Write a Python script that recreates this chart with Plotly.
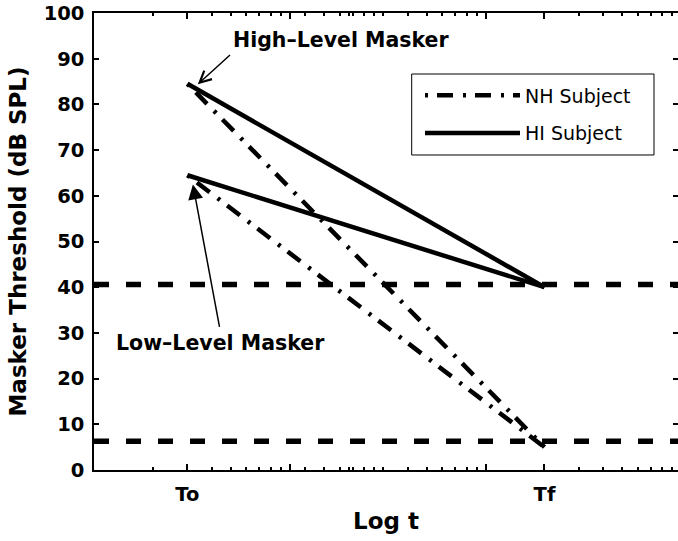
import numpy as np
import plotly.graph_objects as go

# Time axis (log scale) and key time points
T_O = 3.0          # onset time "To"
T_F = 200.0        # final time "Tf"
t_span = [1.0, 1000.0]

# Masker thresholds (dB SPL) at To and Tf
hi_high = [84.5, 40.0]   # HI subject, high-level masker
hi_low = [64.5, 40.0]    # HI subject, low-level masker
nh_high = [84.5, 5.0]    # NH subject, high-level masker
nh_low = [64.5, 5.0]     # NH subject, low-level masker

# Quiet thresholds (horizontal reference levels)
hi_quiet = 40.6
nh_quiet = 6.3

# Axis ticks
y_ticks = list(range(0, 101, 10))
x_major = [T_O, 10, 100, T_F]
x_major_text = ["To", "", "", "Tf"]
decade_minor = [k * 10 ** n for n in range(3) for k in range(2, 10)]
to_multiples = [T_O * k for k in range(4, 10)]
x_minor = sorted(set(v for v in decade_minor + to_multiples if v not in (T_O, T_F)))

FONT = "DejaVu Sans"
DASHDOT = "3px,9px,16px,10px"

fig = go.Figure()

# Quiet-threshold reference levels
for lvl in (hi_quiet, nh_quiet):
    fig.add_trace(go.Scatter(
        x=t_span, y=[lvl, lvl], mode="lines",
        line=dict(color="black", width=5.5, dash="15px,17px"),
        showlegend=False, hoverinfo="skip"))

# NH subject (dash-dot)
fig.add_trace(go.Scatter(
    x=[T_O, T_F], y=nh_high, mode="lines", name="NH Subject",
    line=dict(color="black", width=4.5, dash=DASHDOT), legendgroup="nh"))
fig.add_trace(go.Scatter(
    x=[T_O, T_F], y=nh_low, mode="lines", name="NH Subject",
    line=dict(color="black", width=4.5, dash=DASHDOT), legendgroup="nh",
    showlegend=False))

# HI subject (solid)
fig.add_trace(go.Scatter(
    x=[T_O, T_F], y=hi_high, mode="lines", name="HI Subject",
    line=dict(color="black", width=4.5), legendgroup="hi"))
fig.add_trace(go.Scatter(
    x=[T_O, T_F], y=hi_low, mode="lines", name="HI Subject",
    line=dict(color="black", width=4.5), legendgroup="hi",
    showlegend=False))

lx = np.log10

# Text labels
fig.add_annotation(x=lx(18.3), y=94.0, text="High\u2013Level Masker", showarrow=False,
                   font=dict(family=FONT, size=20.5, color="black", weight="bold"))
fig.add_annotation(x=lx(4.44), y=27.8, text="Low\u2013Level Masker", showarrow=False,
                   font=dict(family=FONT, size=20.5, color="black", weight="bold"))

# Arrows pointing at the masker curves
fig.add_annotation(x=lx(3.39), y=84.4, ax=lx(5.04), ay=91.1, axref="x", ayref="y",
                   text="", showarrow=True, arrowhead=5, arrowsize=1.5,
                   arrowwidth=1.5, arrowcolor="black")
fig.add_annotation(x=lx(3.2), y=62.5, ax=lx(4.39), ay=31.0, axref="x", ayref="y",
                   text="", showarrow=True, arrowhead=2, arrowsize=2.0,
                   arrowwidth=1.5, arrowcolor="black")

axis_common = dict(
    showline=True, linecolor="black", linewidth=1.5, mirror="allticks",
    ticks="inside", tickcolor="black", tickwidth=1.5,
    showgrid=False, zeroline=False,
    tickfont=dict(family=FONT, size=19.5, color="black", weight="bold"),
)

fig.update_xaxes(
    type="log", range=[0, 2.983],
    tickmode="array", tickvals=x_major, ticktext=x_major_text, ticklen=6,
    minor=dict(tickmode="array", tickvals=x_minor, ticks="inside", ticklen=3,
               tickwidth=1.5, tickcolor="black", showgrid=False),
    ticklabelstandoff=6,
    title=dict(text="Log t", font=dict(family=FONT, size=23, color="black", weight="bold"),
               standoff=8),
    **axis_common)

fig.update_yaxes(
    range=[0, 100], tickmode="array", tickvals=y_ticks, ticklen=5,
    ticklabelstandoff=4,
    title=dict(text="Masker Threshold (dB SPL)",
               font=dict(family=FONT, size=23, color="black", weight="bold"),
               standoff=11),
    **axis_common)

# Legend frame
fig.add_shape(type="rect", xref="paper", yref="paper",
              x0=0.544, x1=0.9589, y0=0.6893, y1=0.8665,
              line=dict(color="black", width=1), fillcolor="white", layer="above")

fig.update_layout(
    width=678, height=541,
    margin=dict(l=94, r=0, t=13, b=71, autoexpand=False),
    paper_bgcolor="white", plot_bgcolor="white",
    legend=dict(x=0.5582, y=0.861, xanchor="left", yanchor="top",
                bgcolor="rgba(0,0,0,0)", borderwidth=0,
                font=dict(family=FONT, size=19, color="black"),
                itemwidth=95),
)

fig.write_html("out.html")
